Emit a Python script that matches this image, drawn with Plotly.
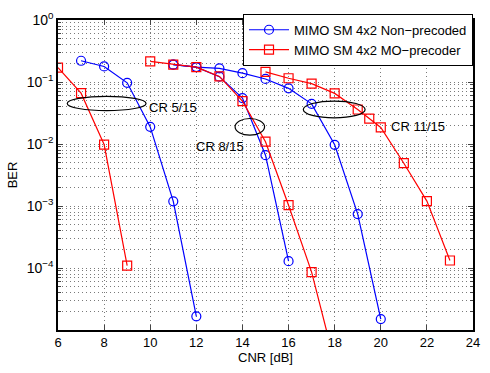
import plotly.graph_objects as go

# CNR axis values [dB] and BER results for each code rate
np_cr5_x = [7, 8, 9, 10, 11, 12]
np_cr5_y = [0.22, 0.178, 0.097, 0.0189, 0.00119, 1.66e-5]
np_cr8_x = [11, 12, 13, 14, 15, 16]
np_cr8_y = [0.19, 0.174, 0.122, 0.055, 0.0066, 1.29e-4]
np_cr11_x = [11, 12, 13, 14, 15, 16, 17, 18, 19, 20]
np_cr11_y = [0.19, 0.174, 0.166, 0.139, 0.112, 0.079, 0.0444, 0.0097, 7.4e-4, 1.5e-5]

mo_cr5_x = [6, 7, 8, 9]
mo_cr5_y = [0.170, 0.066, 0.0098, 1.09e-4]
mo_cr8_x = [10, 11, 12, 13, 14, 15, 16, 17, 18]
mo_cr8_y = [0.215, 0.191, 0.174, 0.123, 0.049, 0.0109, 0.00103, 8.6e-5, 3e-6]
mo_cr11_x = [15, 16, 17, 18, 19, 19.5, 20, 21, 22, 23]
mo_cr11_y = [0.146, 0.115, 0.094, 0.0655, 0.036, 0.0257, 0.0185, 0.0049, 0.0012, 1.32e-4]

x_ticks = [6, 8, 10, 12, 14, 16, 18, 20, 22, 24]
y_ticks = [1, 1e-1, 1e-2, 1e-3, 1e-4]
y_ticktext = ["10<sup>0</sup>", "10<sup>\u22121</sup>", "10<sup>\u22122</sup>",
              "10<sup>\u22123</sup>", "10<sup>\u22124</sup>"]
y_minor = [m * 10.0 ** e for e in range(-5, 0) for m in range(2, 10)]

# code-rate groups: (label, centre CNR, half width, centre log10 BER, half height in decades, label x, label log10 y, anchor)
cr_groups = [
    ("CR 5/15", 8.11, 1.71, -1.346, 0.115, 9.85, -1.415, "left"),
    ("CR 8/15", 14.32, 0.64, -1.723, 0.134, 13.02, -2.046, "center"),
    ("CR 11/15", 17.98, 1.34, -1.443, 0.136, 20.35, -1.723, "left"),
]

BLUE = "rgb(0,0,255)"
RED = "rgb(255,0,0)"
FONT = "Liberation Sans, Arial, sans-serif"
GRID = "#7a7a7a"
GRID_DASH = "1px,3px"

fig = go.Figure()

blue_sets = [(np_cr5_x, np_cr5_y), (np_cr8_x, np_cr8_y), (np_cr11_x, np_cr11_y)]
red_sets = [(mo_cr5_x, mo_cr5_y), (mo_cr8_x, mo_cr8_y), (mo_cr11_x, mo_cr11_y)]

for i, (xs, ys) in enumerate(blue_sets):
    fig.add_trace(go.Scatter(
        x=xs, y=ys, mode="lines+markers",
        name="MIMO SM 4x2 Non\u2212precoded", legendgroup="np", showlegend=(i == 0),
        line=dict(color=BLUE, width=1.2),
        marker=dict(symbol="circle-open", size=9, color=BLUE, line=dict(width=1.2)),
        cliponaxis=True,
    ))
for i, (xs, ys) in enumerate(red_sets):
    fig.add_trace(go.Scatter(
        x=xs, y=ys, mode="lines+markers",
        name="MIMO SM 4x2 MO\u2212precoder", legendgroup="mo", showlegend=(i == 0),
        line=dict(color=RED, width=1.2),
        marker=dict(symbol="square-open", size=9, color=RED, line=dict(width=1.2)),
        cliponaxis=True,
    ))

for label, cx, hw, cy, hh, tx, ty, anchor in cr_groups:
    fig.add_shape(type="circle", xref="x", yref="y",
                  x0=cx - hw, x1=cx + hw,
                  y0=10 ** (cy - hh), y1=10 ** (cy + hh),
                  line=dict(color="black", width=1.2))
    fig.add_annotation(x=tx, y=ty, xref="x", yref="y", text=label, showarrow=False,
                       xanchor=anchor, yanchor="middle",
                       font=dict(size=13, color="black", family=FONT))

fig.update_layout(
    width=490, height=373,
    margin=dict(l=58, r=12, t=10, b=37),
    paper_bgcolor="white", plot_bgcolor="white",
    font=dict(family=FONT, size=13, color="black"),
    showlegend=True,
    legend=dict(x=1.0, y=1.02, xanchor="right", yanchor="top",
                bgcolor="white", bordercolor="black", borderwidth=1,
                font=dict(size=13, color="black"), tracegroupgap=0,
                itemwidth=40),
)

fig.update_xaxes(
    range=[6, 24], tickvals=x_ticks, ticks="inside", ticklen=5,
    showline=True, linecolor="black", linewidth=1.5, mirror="ticks",
    showgrid=True, gridcolor=GRID, griddash=GRID_DASH, gridwidth=1,
    zeroline=False, tickfont=dict(size=13),
    title=dict(text="CNR [dB]", standoff=4, font=dict(size=13)),
)
fig.update_yaxes(
    type="log", range=[-5, 0], tickvals=y_ticks, ticktext=y_ticktext,
    ticks="inside", ticklen=5,
    showline=True, linecolor="black", linewidth=1.5, mirror="ticks",
    showgrid=True, gridcolor=GRID, griddash=GRID_DASH, gridwidth=1,
    minor=dict(tickvals=y_minor, ticks="inside", ticklen=3, showgrid=True,
               gridcolor=GRID, griddash=GRID_DASH, gridwidth=1),
    zeroline=False, tickfont=dict(size=14),
    title=dict(text="BER", standoff=6, font=dict(size=13)),
)

fig.write_html("out.html")
